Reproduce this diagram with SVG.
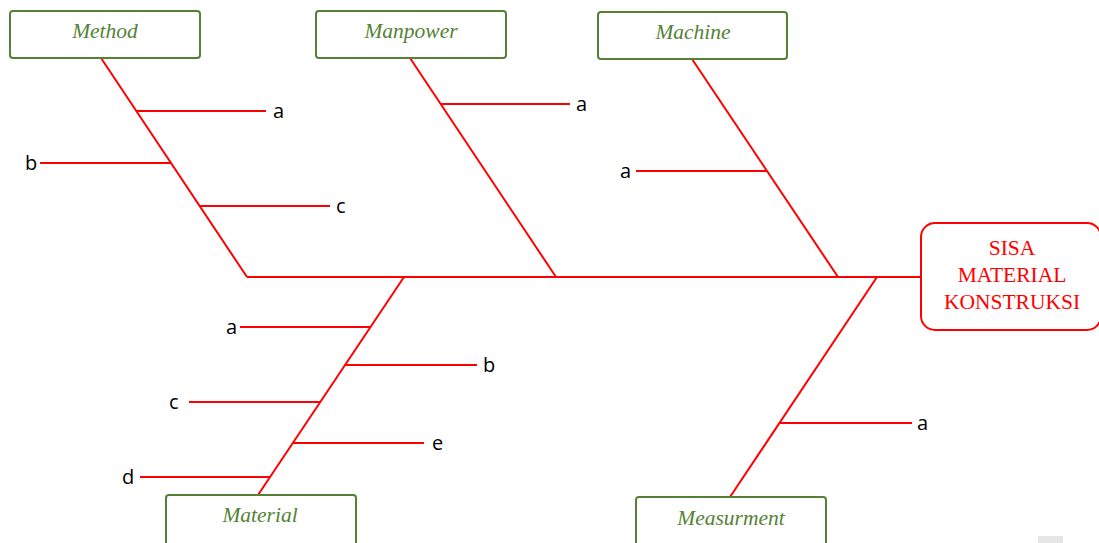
<svg xmlns="http://www.w3.org/2000/svg" width="1099" height="543" viewBox="0 0 1099 543">
<style>
.box{fill:#fff;stroke:#548235;stroke-width:2}
.cat{font-family:"Liberation Serif",serif;font-style:italic;font-size:21.5px;fill:#548235;text-anchor:middle}
.bone{stroke:#ff0000;stroke-width:2;fill:none}
.lbl{font-family:"Open Sans","Liberation Sans",sans-serif;font-size:20px;fill:#000}
.head{fill:#fff;stroke:#ff0000;stroke-width:2}
.ht{font-family:"Liberation Serif",serif;font-size:21.5px;fill:#ff0000;text-anchor:middle}
</style>
<rect width="1099" height="543" fill="#fff"/>
<g id="connectors">
<line class="bone" x1="247" y1="277" x2="921" y2="277"/>
<line class="bone" x1="101" y1="58" x2="247" y2="277"/>
<line class="bone" x1="136" y1="111" x2="266" y2="111"/>
<line class="bone" x1="40" y1="163" x2="171" y2="163"/>
<line class="bone" x1="200" y1="206" x2="330" y2="206"/>
<line class="bone" x1="410" y1="58" x2="556" y2="277"/>
<line class="bone" x1="441" y1="104" x2="570" y2="104"/>
<line class="bone" x1="692" y1="59" x2="838" y2="277"/>
<line class="bone" x1="636" y1="171" x2="767" y2="171"/>
<line class="bone" x1="404" y1="277" x2="258" y2="495"/>
<line class="bone" x1="240" y1="327" x2="371" y2="327"/>
<line class="bone" x1="345" y1="365" x2="477" y2="365"/>
<line class="bone" x1="189" y1="402" x2="320" y2="402"/>
<line class="bone" x1="293" y1="443" x2="424" y2="443"/>
<line class="bone" x1="140" y1="477" x2="270" y2="477"/>
<line class="bone" x1="877" y1="277" x2="730" y2="497"/>
<line class="bone" x1="780" y1="423" x2="912" y2="423"/>
</g>
<g id="labels">
<text class="lbl" x="273" y="118">a</text>
<text class="lbl" x="25" y="170">b</text>
<text class="lbl" x="336" y="213">c</text>
<text class="lbl" x="576" y="111">a</text>
<text class="lbl" x="620" y="178">a</text>
<text class="lbl" x="226" y="334">a</text>
<text class="lbl" x="483" y="372">b</text>
<text class="lbl" x="169" y="409">c</text>
<text class="lbl" x="432" y="450">e</text>
<text class="lbl" x="122" y="484">d</text>
<text class="lbl" x="917" y="430">a</text>
</g>
<g id="method"><rect class="box" x="10" y="11" width="190" height="47" rx="3"/><text class="cat" x="105" y="38">Method</text></g>
<g id="manpower"><rect class="box" x="316" y="11" width="190" height="47" rx="3"/><text class="cat" x="411" y="38">Manpower</text></g>
<g id="machine"><rect class="box" x="598" y="12" width="189" height="47" rx="3"/><text class="cat" x="693" y="39">Machine</text></g>
<g id="material"><rect class="box" x="166" y="495" width="190" height="50" rx="3"/><text class="cat" x="260" y="522">Material</text></g>
<g id="measurment"><rect class="box" x="636" y="497" width="190" height="50" rx="3"/><text class="cat" x="731" y="525">Measurment</text></g>
<g id="sisa"><rect class="head" x="921" y="223" width="180" height="107" rx="14"/>
<text class="ht" x="1012" y="255">SISA</text>
<text class="ht" x="1012" y="282">MATERIAL</text>
<text class="ht" x="1012" y="309">KONSTRUKSI</text></g>
<rect x="1038" y="536" width="25" height="7" fill="#e6e6e6"/>
</svg>
